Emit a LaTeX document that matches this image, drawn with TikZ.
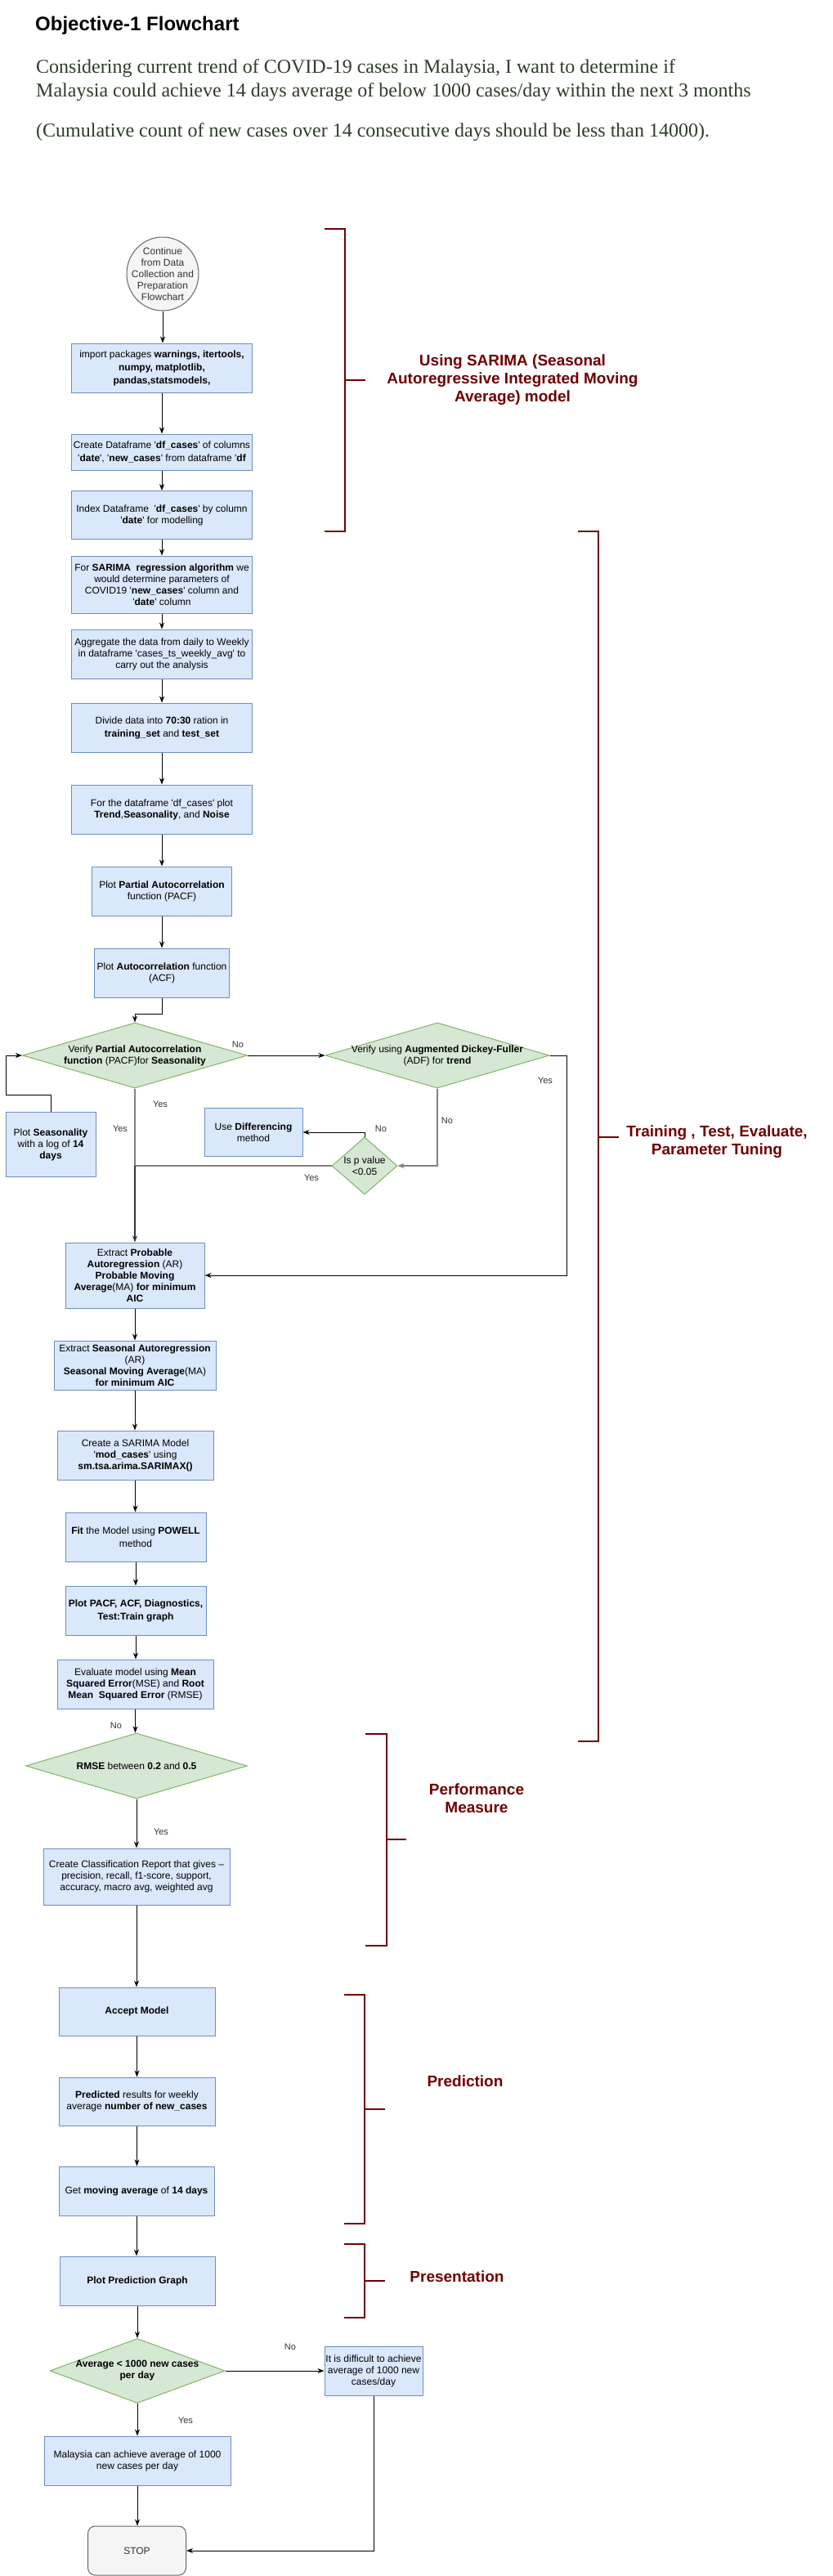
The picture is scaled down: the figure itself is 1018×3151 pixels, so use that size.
\documentclass[tikz,border=0pt]{standalone}
\usepackage{fontspec}
\setmainfont{Liberation Sans}[Ligatures=TeXOff]
\newfontfamily\seriffont{Liberation Serif}
\usetikzlibrary{shapes.geometric,arrows.meta}
\newcommand\fs[2]{\fontsize{#1}{#2}\selectfont}
\definecolor{boxfill}{HTML}{DAE8FC}
\definecolor{boxline}{HTML}{6C8EBF}
\definecolor{diafill}{HTML}{D5E8D4}
\definecolor{dialine}{HTML}{82B366}
\definecolor{termfill}{HTML}{F5F5F5}
\definecolor{termline}{HTML}{666666}
\definecolor{brkc}{HTML}{700000}
\definecolor{paracol}{HTML}{2F3D2B}
\definecolor{glinec}{HTML}{808080}
\definecolor{txtdark}{HTML}{333333}
\tikzset{
 box/.style={draw=boxline, fill=boxfill, line width=1pt, inner sep=0pt, align=center, font=\fs{12}{14}},
 dia/.style={diamond, draw=dialine, fill=diafill, line width=1pt, inner sep=0pt},
 diat/.style={inner sep=0pt, align=center, font=\fs{12}{14}},
 term/.style={draw=termline, fill=termfill, line width=1pt, inner sep=0pt, align=center, font=\fs{12}{14}, text=txtdark},
 arr/.style={draw=black, line width=1pt, -{Stealth[length=8pt,width=6pt,inset=2.5pt]}},
 gln/.style={draw=glinec, line width=2pt},
 elab/.style={inner sep=0pt, font=\fs{11}{13}, text=txtdark},
 brk/.style={draw=brkc, line width=2pt},
 blab/.style={inner sep=0pt, align=center, font=\bfseries\fs{19}{22}, text=brkc},
}
\begin{document}
\begin{tikzpicture}[x=1pt,y=-1pt]
\useasboundingbox (0,0) rectangle (1018,3151);
\fill[white] (0,0) rectangle (1018,3151);

% header
\node[anchor=base west, inner sep=0pt, font=\bfseries\fs{24}{28}] (title) at (43,37) {Objective-1 Flowchart};
\node[anchor=base west, inner sep=0pt, font=\seriffont\fs{24}{29}, text=paracol] (p1) at (44,89) {Considering current trend of COVID-19 cases in Malaysia, I want to determine if};
\node[anchor=base west, inner sep=0pt, font=\seriffont\fs{24}{29}, text=paracol] (p2) at (44,118) {Malaysia could achieve 14 days average of below 1000 cases/day within the next 3 months};
\node[anchor=base west, inner sep=0pt, font=\seriffont\fs{24}{29}, text=paracol] (p3) at (44,167) {(Cumulative count of new cases over 14 consecutive days should be less than 14000).};

% start
\node[ellipse, draw=termline, fill=termfill, line width=1pt, minimum width=88pt, minimum height=90pt, inner sep=0pt] (c0) at (199,335) {};
\node[diat, text=txtdark] (c0t) at (c0) {Continue\\from Data\\Collection and\\Preparation\\Flowchart};

\node[box, minimum width=221pt, minimum height=60pt, font=\fs{12}{16}] (b1) at (198,450) {import packages \textbf{warnings, itertools,}\\\textbf{numpy, matplotlib,}\\\textbf{pandas,statsmodels,}};
\node[box, minimum width=221pt, minimum height=44pt, font=\fs{12}{16}] (b2) at (198,553) {Create Dataframe '\textbf{df\_cases}' of columns\\'\textbf{date}', '\textbf{new\_cases}' from dataframe '\textbf{df}};
\node[box, minimum width=221pt, minimum height=59pt] (b3) at (198,630) {Index Dataframe\ \ '\textbf{df\_cases}' by column\\'\textbf{date}' for modelling};
\node[box, minimum width=221pt, minimum height=70pt] (b4) at (198,715) {For \textbf{SARIMA\ \ regression algorithm} we\\would determine parameters of\\COVID19 '\textbf{new\_cases}' column and\\'\textbf{date}' column};
\node[box, minimum width=221pt, minimum height=60pt] (b5) at (198,800) {Aggregate the data from daily to Weekly\\in dataframe 'cases\_ts\_weekly\_avg' to\\carry out the analysis};
\node[box, minimum width=221pt, minimum height=60pt, font=\fs{12}{16}] (b6) at (198,890) {Divide data into \textbf{70:30} ration in\\\textbf{training\_set} and \textbf{test\_set}};
\node[box, minimum width=221pt, minimum height=60pt] (b7) at (198,990) {For the dataframe 'df\_cases' plot\\\textbf{Trend},\textbf{Seasonality}, and \textbf{Noise}};
\node[box, minimum width=171pt, minimum height=60pt] (b8) at (198,1090) {Plot \textbf{Partial Autocorrelation}\\function (PACF)};
\node[box, minimum width=165pt, minimum height=60pt] (b9) at (198,1190) {Plot \textbf{Autocorrelation} function\\(ACF)};

% decisions
\node[dia, minimum width=275pt, minimum height=80pt] (d1) at (165,1291) {};
\node[diat] (d1t) at (d1) {Verify \textbf{Partial Autocorrelation}\\\textbf{function} (PACF)for \textbf{Seasonality}};
\node[dia, minimum width=274pt, minimum height=80pt] (d2) at (535,1291) {};
\node[diat] (d2t) at (d2) {Verify using \textbf{Augmented Dickey-Fuller}\\(ADF) for \textbf{trend}};
\node[box, minimum width=110pt, minimum height=79pt] (ps) at (62,1400) {Plot \textbf{Seasonality}\\with a log of \textbf{14}\\\textbf{days}};
\node[box, minimum width=120pt, minimum height=59pt] (ud) at (310,1385) {Use \textbf{Differencing}\\method};
\node[dia, minimum width=80pt, minimum height=70pt] (d3) at (446,1426) {};
\node[diat] (d3t) at (d3) {Is p value\\<0.05};

\node[box, minimum width=170pt, minimum height=80pt] (ep) at (165,1560) {Extract \textbf{Probable}\\\textbf{Autoregression} (AR)\\\textbf{Probable Moving}\\\textbf{Average}(MA) \textbf{for minimum}\\\textbf{AIC}};
\node[box, minimum width=198pt, minimum height=60pt] (es) at (165,1670) {Extract \textbf{Seasonal Autoregression}\\(AR)\\\textbf{Seasonal Moving Average}(MA)\\\textbf{for minimum AIC}};
\node[box, minimum width=191pt, minimum height=60pt] (cs) at (165.5,1780) {Create a SARIMA Model\\'\textbf{mod\_cases}' using\\\textbf{sm.tsa.arima.SARIMAX()}};
\node[box, minimum width=172pt, minimum height=60pt, font=\fs{12}{16}] (fm) at (166,1880) {\textbf{Fit} the Model using \textbf{POWELL}\\method};
\node[box, minimum width=172pt, minimum height=60pt, font=\fs{12}{16}] (pp) at (166,1970) {\textbf{Plot PACF, ACF, Diagnostics,}\\\textbf{Test:Train graph}};
\node[box, minimum width=191pt, minimum height=60pt] (ev) at (165.5,2060) {Evaluate model using \textbf{Mean}\\\textbf{Squared Error}(MSE) and \textbf{Root}\\\textbf{Mean\ \ Squared Error} (RMSE)};
\node[dia, minimum width=271pt, minimum height=80pt] (rm) at (167,2160) {};
\node[diat] (rmt) at (rm) {\textbf{RMSE} between \textbf{0.2} and \textbf{0.5}};
\node[box, minimum width=228pt, minimum height=69pt] (cr) at (167,2295.5) {Create Classification Report that gives –\\precision, recall, f1-score, support,\\accuracy, macro avg, weighted avg};
\node[box, minimum width=191pt, minimum height=59pt] (am) at (167.5,2460.5) {\textbf{Accept Model}};
\node[box, minimum width=191pt, minimum height=59pt] (pr) at (167.5,2570.5) {\textbf{Predicted} results for weekly\\average \textbf{number of new\_cases}};
\node[box, minimum width=190pt, minimum height=60pt] (gm) at (167,2680) {Get \textbf{moving average} of \textbf{14 days}};
\node[box, minimum width=190pt, minimum height=60pt] (pg) at (168,2790) {\textbf{Plot Prediction Graph}};
\node[dia, minimum width=214pt, minimum height=79pt] (av) at (168,2900) {};
\node[diat] (avt) at (av) {\textbf{Average < 1000 new cases}\\\textbf{per day}};
\node[box, minimum width=120pt, minimum height=60pt] (df) at (457,2900) {It is difficult to achieve\\average of 1000 new\\cases/day};
\node[box, minimum width=228pt, minimum height=60pt] (ml) at (168,3010) {Malaysia can achieve average of 1000\\new cases per day};
\node[term, rounded corners=9pt, minimum width=120pt, minimum height=60pt] (st) at (167.5,3120) {STOP};

% connectors top chain
\foreach \a/\b in {c0/b1,b1/b2,b2/b3,b3/b4,b4/b5,b5/b6,b6/b7,b7/b8,b8/b9}
  \draw[arr] (\a.south) -- (\a.south |- \b.north);
\draw[arr] (b9.south) -- ++(0,20) -| (d1.north);
\draw[arr] (d1.east) -- (d2.west);
\draw[arr] (ps.north) -- ++(0,-21) -- ++(-55,0) |- (d1.west);
\draw[arr] (d2.east) -- ++(21,0) |- (ep.east);
\draw[arr, draw=glinec, line width=2pt] (d2.south) |- (d3.east);
\draw[arr] (d3.north) |- (ud.east);
\coordinate (mrg) at (d1.south |- d3.west);
\draw[gln] (d3.west) -- (mrg);
\draw[gln, line width=1.5pt] (d1.south) -- (mrg);
\draw[arr, line width=1.5pt, draw=txtdark] (mrg) -- (ep.north);

% lower chain
\foreach \a/\b in {ep/es,es/cs,cs/fm,fm/pp,pp/ev,ev/rm,rm/cr,cr/am,am/pr,pr/gm,gm/pg,pg/av,av/ml,ml/st}
  \draw[arr] (\a.south) -- (\a.south |- \b.north);
\draw[arr] (av.east) -- (df.west);
\draw[arr] (df.south) |- (st.east);

% edge labels
\node[elab] (lno1) at (291,1278) {No};
\node[elab] (lyes1) at (196,1351) {Yes};
\node[elab] (lyes2) at (147,1381) {Yes};
\node[elab] (lyes3) at (667,1322) {Yes};
\node[elab] (lno2) at (547,1371) {No};
\node[elab] (lno3) at (466,1381) {No};
\node[elab] (lyes4) at (381,1441) {Yes};
\node[elab] (lno4) at (142,2111) {No};
\node[elab] (lyes5) at (197,2241) {Yes};
\node[elab] (lno5) at (355,2871) {No};
\node[elab] (lyes6) at (227,2961) {Yes};

% brackets
\draw[brk] (397,280) -- (422,280) -- (422,650) -- (397,650);
\draw[brk] (422,465) -- (447,465);
\draw[brk] (707,650) -- (732,650) -- (732,2130) -- (707,2130);
\draw[brk] (732,1391) -- (757,1391);
\draw[brk] (447,2121) -- (473,2121) -- (473,2380) -- (447,2380);
\draw[brk] (473,2250) -- (497,2250);
\draw[brk] (421,2440) -- (446,2440) -- (446,2720) -- (421,2720);
\draw[brk] (446,2580) -- (471,2580);
\draw[brk] (421,2745) -- (446,2745) -- (446,2835) -- (421,2835);
\draw[brk] (446,2790) -- (471,2790);

\node[blab] (bl1) at (627,465) {Using SARIMA (Seasonal\\Autoregressive Integrated Moving\\Average) model};
\node[blab] (bl2) at (877,1397) {Training , Test, Evaluate,\\Parameter Tuning};
\node[blab] (bl3) at (583,2200) {Performance\\Measure};
\node[blab] (bl4) at (569,2546) {Prediction};
\node[blab] (bl5) at (559,2785) {Presentation};
\end{tikzpicture}
\end{document}
